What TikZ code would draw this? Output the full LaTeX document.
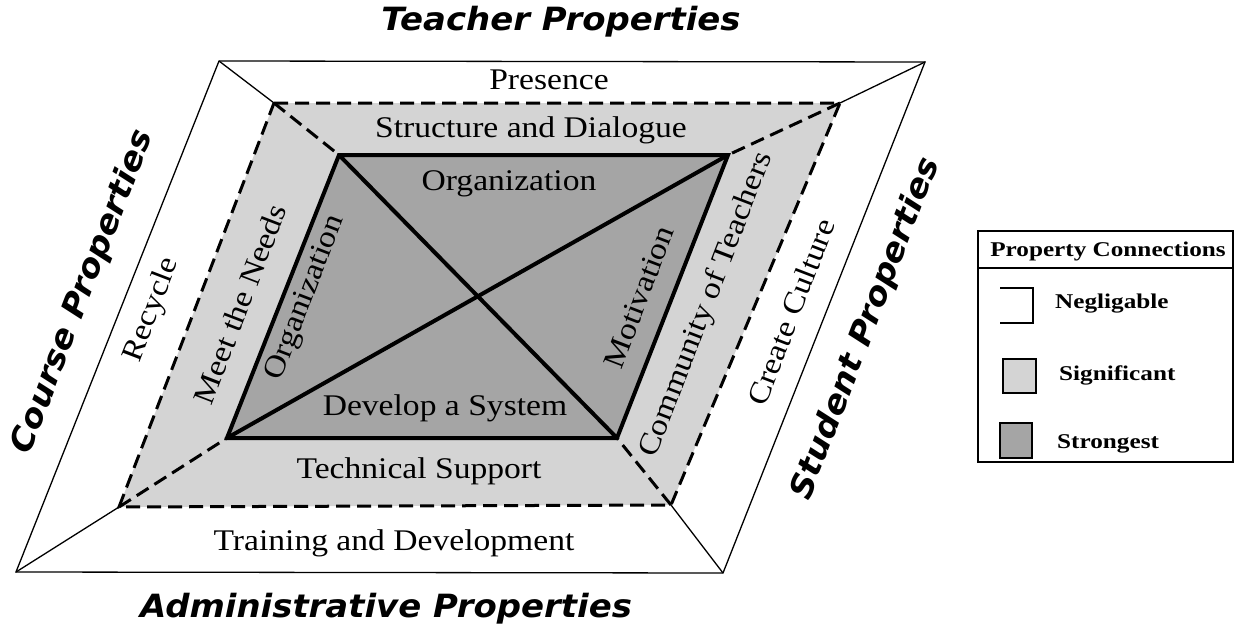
\documentclass[tikz,border=0pt]{standalone}
\usepackage{fontspec}
\setmainfont[FakeStretch=1.12]{Liberation Serif}
\newfontfamily\headfont[FakeStretch=1.06]{DejaVu Sans}
\newfontfamily\legfont[FakeStretch=1.2]{Liberation Serif}
\begin{document}
\begin{tikzpicture}[x=1pt,y=-1pt,
  thinline/.style={line width=1.3pt,black},
  dashline/.style={line width=3pt,black,dash pattern=on 14pt off 7pt},
  thickline/.style={line width=4pt,black,line join=miter},
  lab/.style={font=\fontsize{30}{32}\selectfont,inner sep=0pt},
  head/.style={font=\headfont\bfseries\itshape\fontsize{32}{34}\selectfont,inner sep=0pt},
  legtxt/.style={font=\legfont\bfseries\fontsize{21}{23}\selectfont,inner sep=0pt,anchor=west}]
\definecolor{sig}{RGB}{212,212,212}
\definecolor{strong}{RGB}{165,165,165}
\useasboundingbox (0,0) rectangle (1234,634);
% corners
\coordinate (oTL) at (219,61);
\coordinate (oTR) at (925,62);
\coordinate (oBR) at (723,573);
\coordinate (oBL) at (16,572);
\coordinate (mTL) at (274,103);
\coordinate (mTR) at (840,103);
\coordinate (mBR) at (671,505);
\coordinate (mBL) at (119,507);
\coordinate (iTL) at (339,155);
\coordinate (iTR) at (728,155);
\coordinate (iBR) at (617,438);
\coordinate (iBL) at (227,438);
% fills
\fill[sig] (mTL) -- (mTR) -- (mBR) -- (mBL) -- cycle;
\fill[strong] (iTL) -- (iTR) -- (iBR) -- (iBL) -- cycle;
% outer
\draw[thinline] (oTL) -- (oTR) -- (oBR) -- (oBL) -- cycle;
\draw[thinline] (oTL) -- (mTL);
\draw[thinline] (oTR) -- (mTR);
\draw[thinline] (oBR) -- (mBR);
\draw[thinline] (oBL) -- (mBL);
% middle dashed
\draw[dashline] (mTL) -- (mTR) -- (mBR) -- (mBL) -- cycle;
\draw[dashline] (mTL) -- (iTL);
\draw[dashline] (mTR) -- (iTR);
\draw[dashline] (mBR) -- (iBR);
\draw[dashline] (mBL) -- (iBL);
% inner
\draw[thickline] (iTL) -- (iTR) -- (iBR) -- (iBL) -- cycle;
\draw[thickline] (iTL) -- (iBR);
\draw[thickline] (iBL) -- (iTR);
% labels
\node[lab] (presence) at (549,80) {Presence};
\node[lab] (struct) at (531,130) {Structure and Dialogue};
\node[lab] (org1) at (509,184) {Organization};
\node[lab] (dev) at (445,408) {Develop a System};
\node[lab] (tech) at (419,471) {Technical Support};
\node[lab] (train) at (394,543) {Training and Development};
\node[lab,rotate=69] (recycle) at (152,310) {Recycle};
\node[lab,rotate=69] (needs) at (240,304) {Meet the Needs};
\node[lab,rotate=69] (org2) at (306,298) {Organization};
\node[lab,rotate=69] (motiv) at (639,297) {Motivation};
\node[lab,rotate=69] (comm) at (707,305) {Community of Teachers};
\node[lab,rotate=69] (culture) at (791,312) {Create Culture};
% headings
\node[head] (teacher) at (561,22) {Teacher Properties};
\node[head] (admin) at (386,609) {Administrative Properties};
\node[head,rotate=69] (course) at (83,292) {Course Properties};
\node[head,rotate=69] (student) at (866,329) {Student Properties};
% legend
\draw[line width=1.3pt] (978,231) rectangle (1233,462);
\draw[line width=1.3pt] (978,268) -- (1233,268);
\node[font=\legfont\bfseries\fontsize{21}{23}\selectfont,inner sep=0pt] (legtitle) at (1108,251) {Property Connections};
\draw[line width=1.3pt] (1000,288) -- (1033,288) -- (1033,323) -- (1000,323);
\node[legtxt] (neg) at (1055,304) {Negligable};
\draw[line width=1.3pt,fill=sig] (1003,359) rectangle (1036,393);
\node[legtxt] (sigt) at (1059,375) {Significant};
\draw[line width=1.3pt,fill=strong] (1000,423) rectangle (1032,458);
\node[legtxt] (strt) at (1057,444) {Strongest};
\end{tikzpicture}
\end{document}
